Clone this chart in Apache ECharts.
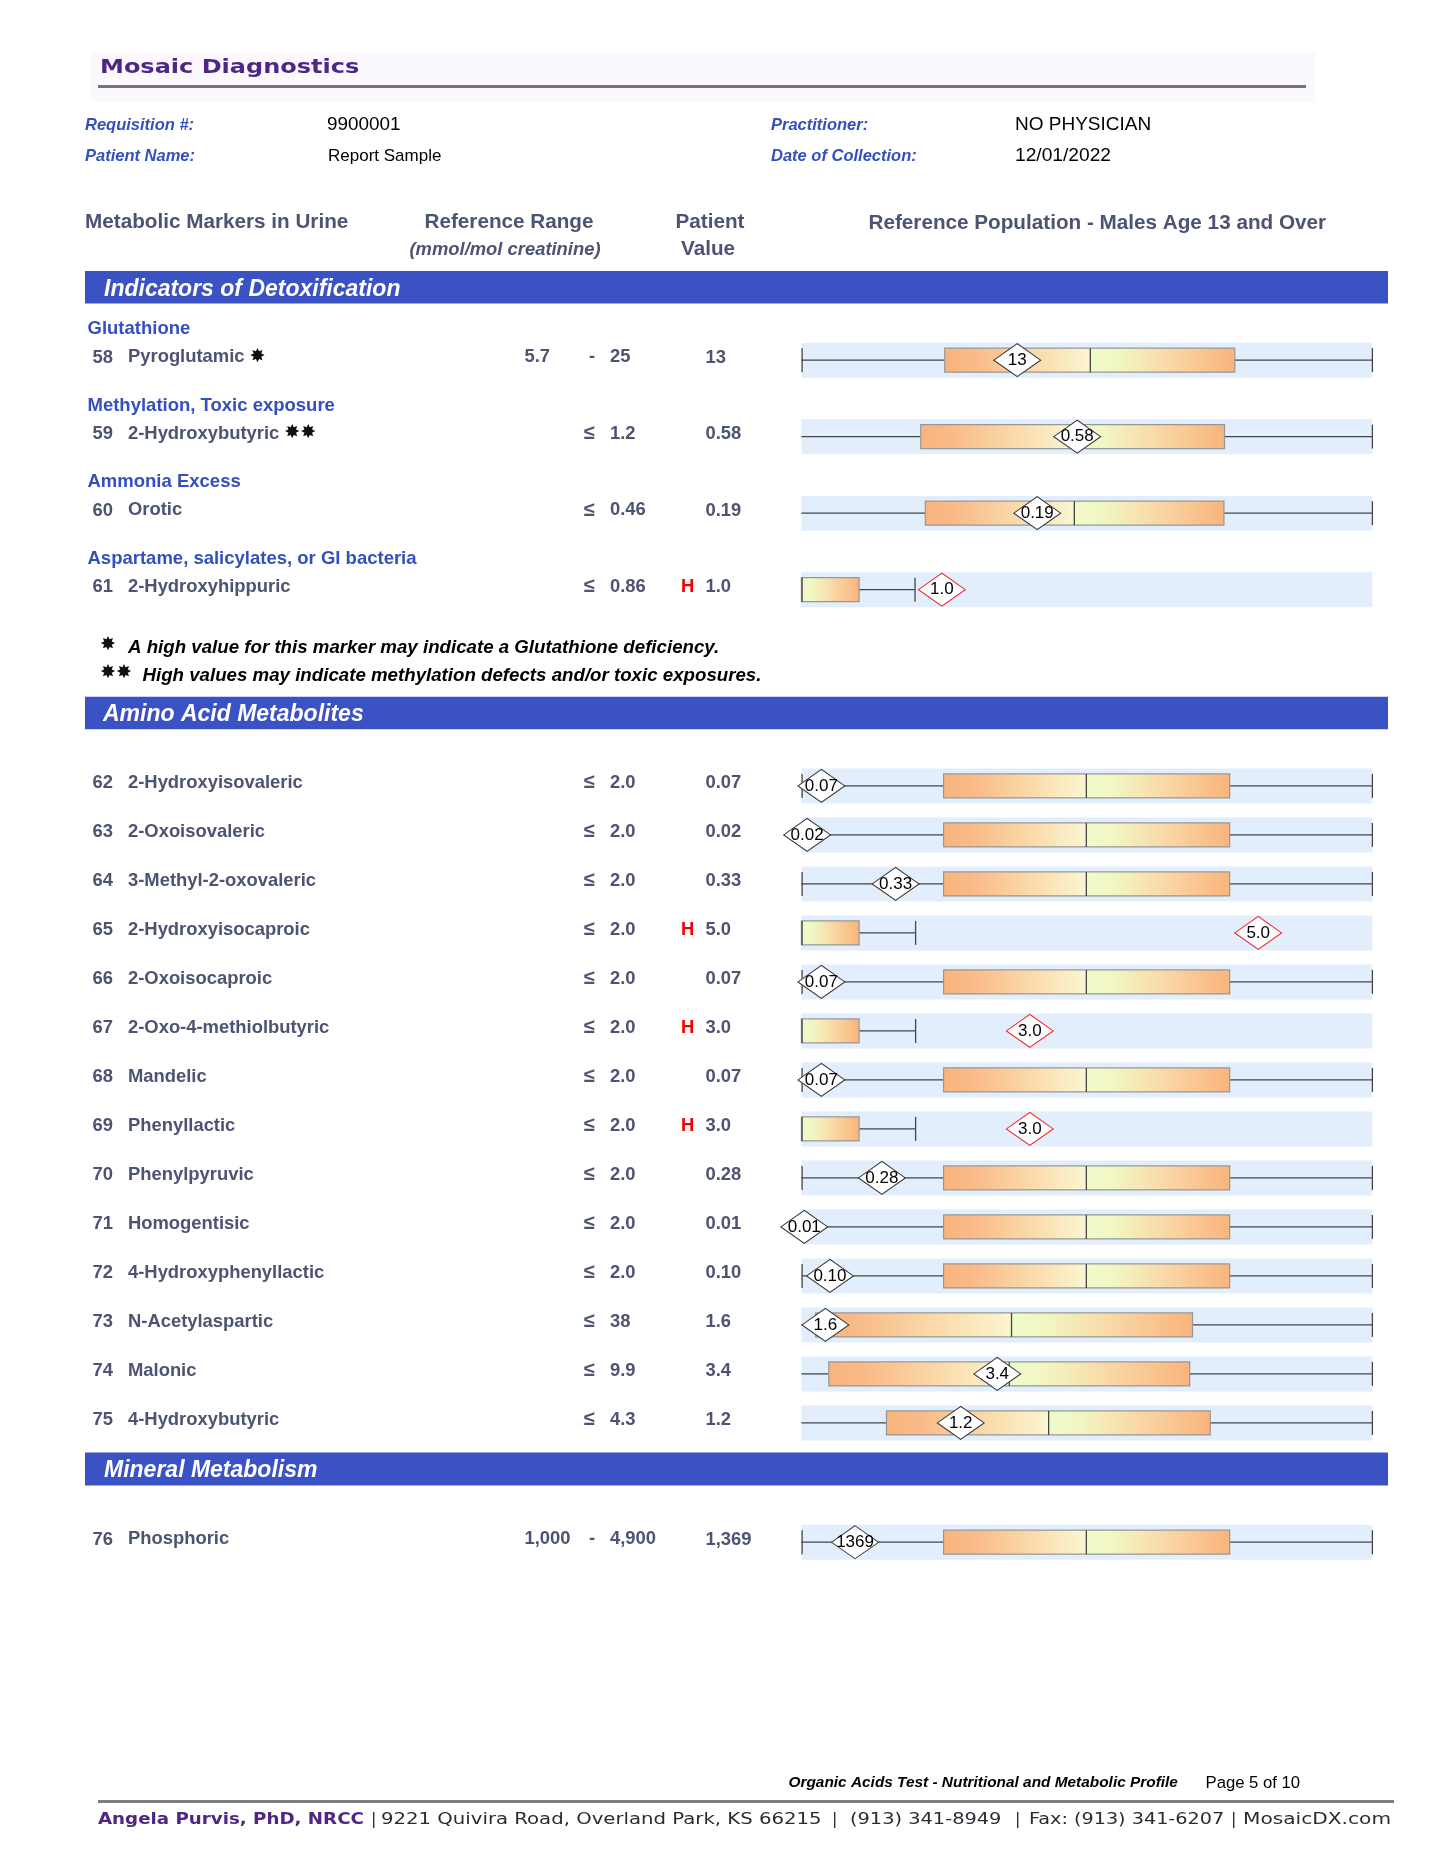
<!DOCTYPE html>
<html>
<head>
    <meta charset="utf-8">
    <script src="https://cdn.jsdelivr.net/npm/echarts@6/dist/echarts.min.js"></script>
    <style>html,body{margin:0;padding:0;background:#fff}</style>
</head>
<body>
    <div id="main" style="width:1445px;height:1870px;"></div>
    <script type="text/javascript">
        var rowIds = [58,59,60,61, 62,63,64,65,66,67,68,69,70,71,72,73,74,75, 76];
        var rowNames = ['Pyroglutamic','2-Hydroxybutyric','Orotic','2-Hydroxyhippuric',
            '2-Hydroxyisovaleric','2-Oxoisovaleric','3-Methyl-2-oxovaleric','2-Hydroxyisocaproic','2-Oxoisocaproic',
            '2-Oxo-4-methiolbutyric','Mandelic','Phenyllactic','Phenylpyruvic','Homogentisic','4-Hydroxyphenyllactic',
            'N-Acetylaspartic','Malonic','4-Hydroxybutyric','Phosphoric'];
        var rowStars = [1,2,0,0, 0,0,0,0,0,0,0,0,0,0,0,0,0,0, 0];
        var rangeLow = ['5.7','','','', '','','','','','','','','','','','','','', '1,000'];
        var rangeHigh = ['25','1.2','0.46','0.86', '2.0','2.0','2.0','2.0','2.0','2.0','2.0','2.0','2.0','2.0','2.0','38','9.9','4.3', '4,900'];
        var patientValues = ['13','0.58','0.19','1.0', '0.07','0.02','0.33','5.0','0.07','3.0','0.07','3.0','0.28','0.01','0.10','1.6','3.4','1.2', '1,369'];
        var markerLabels = ['13','0.58','0.19','1.0', '0.07','0.02','0.33','5.0','0.07','3.0','0.07','3.0','0.28','0.01','0.10','1.6','3.4','1.2', '1369'];
        var highFlags = [0,0,0,1, 0,0,0,1,0,1,0,1,0,0,0,0,0,0, 0];

        // position along the reference bar, 0-100 (the bar is not linear in mmol/mol)
        var markerPos = [37.8,48.3,41.3,24.6, 3.5,1.0,16.5,80,3.5,40,3.5,40,14.1,0.5,5.0,4.2,34.3,27.9, 9.4];
        var whiskerLow = [0,0,0,0, 0,0,0,0,0,0,0,0,0,0,0,0,0,0, 0];
        var lowCap = [1,0,0,1, 1,1,1,1,1,1,1,1,1,1,1,0,0,0, 1];
        var boxLow = [25.1,20.9,21.7,0, 24.9,24.9,24.9,0,24.9,0,24.9,0,24.9,24.9,24.9,2.5,4.8,14.9, 24.9];
        var boxMid = [50.6,48,47.8,0, 49.9,49.9,49.9,0,49.9,0,49.9,0,49.9,49.9,49.9,36.8,36.4,43.3, 49.9];
        var boxHigh = [75.9,74.1,74,10.1, 75,75,75,10.1,75,10.1,75,10.1,75,75,75,68.5,68,71.6, 75];
        var whiskerHigh = [100,100,100,19.9, 100,100,100,20,100,20,100,20,100,100,100,100,100,100, 100];

        var groupLabels = {0:'Glutathione', 1:'Methylation, Toxic exposure', 2:'Ammonia Excess', 3:'Aspartame, salicylates, or GI bacteria'};
        var sections = [[0,4],[4,18],[18,19]];
        var sectionTop = [321.9, 761.4, 1517.7];
        var rowStep = [76.5, 49, 49];

        var BLUE = '#3B52C4', GREY = '#4D5372', LINK = '#3350BE', SANS = '"Liberation Sans"';
        var barLeft = 801.4, barWidth = 571;

        var myChart = echarts.init(document.getElementById('main'));

        var leftFill = new echarts.graphic.LinearGradient(0, 0, 1, 0, [
            {offset: 0, color: '#F9B47C'}, {offset: 0.2, color: '#F9BA88'},
            {offset: 0.6, color: '#FAD9A8'}, {offset: 1, color: '#FBF6D2'}]);
        var rightFill = new echarts.graphic.LinearGradient(0, 0, 1, 0, [
            {offset: 0, color: '#EFFBCB'}, {offset: 0.2, color: '#F2F6C2'},
            {offset: 0.55, color: '#F9D8A6'}, {offset: 1, color: '#F9B47C'}]);

        function renderBox(params, api) {
            var row = api.value(5);
            var cy = api.coord([0, row])[1];
            function px(i) { return api.coord([api.value(i), row])[0]; }
            var wl = px(0), bl = px(1), bm = px(2), bh = px(3), wh = px(4);
            var line = {stroke: '#454545', lineWidth: 1.3};
            var kids = [
                {type: 'line', shape: {x1: wl, y1: cy, x2: bl, y2: cy}, style: line},
                {type: 'line', shape: {x1: bh, y1: cy, x2: wh, y2: cy}, style: line},
                {type: 'line', shape: {x1: wh, y1: cy - 12, x2: wh, y2: cy + 12}, style: line}
            ];
            if (api.value(6)) {
                kids.push({type: 'line', shape: {x1: wl + 0.7, y1: cy - 12, x2: wl + 0.7, y2: cy + 12}, style: line});
            }
            if (bm > bl) {
                kids.push({type: 'rect', shape: {x: bl, y: cy - 12, width: bm - bl, height: 24}, style: {fill: leftFill}});
            }
            kids.push({type: 'rect', shape: {x: bm, y: cy - 12, width: bh - bm, height: 24}, style: {fill: rightFill}});
            kids.push({type: 'rect', shape: {x: bl, y: cy - 12, width: bh - bl, height: 24},
                style: {fill: 'none', stroke: '#979797', lineWidth: 1.2}});
            kids.push({type: 'line', shape: {x1: bm + (bm > bl ? 0 : 0.7), y1: cy - 12, x2: bm + (bm > bl ? 0 : 0.7), y2: cy + 12}, style: line});
            return {type: 'group', children: kids};
        }

        var grids = [], xAxes = [], yAxes = [], series = [];
        sections.forEach(function (sec, g) {
            var idx = [];
            for (var i = sec[0]; i < sec[1]; i++) { idx.push(i); }
            grids.push({left: barLeft, width: barWidth, top: sectionTop[g], height: idx.length * rowStep[g]});
            xAxes.push({gridIndex: g, type: 'value', min: 0, max: 100, show: false});
            yAxes.push({gridIndex: g, type: 'category', inverse: true, show: false,
                data: idx.map(function (i) { return rowNames[i]; })});
            series.push({
                type: 'bar', xAxisIndex: g, yAxisIndex: g, barWidth: 35, silent: true, animation: false,
                itemStyle: {color: '#E3EEFD'},
                data: idx.map(function () { return 100; })
            });
            series.push({
                type: 'custom', xAxisIndex: g, yAxisIndex: g, animation: false, z: 3,
                renderItem: renderBox, encode: {x: [0, 1, 2, 3, 4], y: 5},
                data: idx.map(function (i, k) {
                    return [whiskerLow[i], boxLow[i], boxMid[i], boxHigh[i], whiskerHigh[i], k, lowCap[i]];
                })
            });
            series.push({
                type: 'scatter', xAxisIndex: g, yAxisIndex: g, animation: false, z: 5, clip: false,
                symbol: 'diamond', symbolSize: [47, 33],
                data: idx.map(function (i, k) {
                    return {
                        value: [markerPos[i], k],
                        itemStyle: {color: '#fff', opacity: 1, borderColor: highFlags[i] ? '#F02B2B' : '#3A3A3A', borderWidth: 1},
                        label: {show: true, position: 'inside', formatter: markerLabels[i], color: '#000',
                            fontFamily: 'Liberation Sans', fontSize: 17}
                    };
                })
            });
        });

        // page furniture: everything around the plot is plain text
        var gfx = [];
        function txt(text, x, y, font, fill, align, stretch) {
            gfx.push({type: 'text', silent: true, x: x, y: y, scaleX: stretch || 1,
                style: {text: text, x: 0, y: 0, font: font, fill: fill,
                textAlign: align || 'left', textVerticalAlign: 'middle',
                rich: {s: {font: '19px "DejaVu Sans"', fill: '#111'}}}});
        }
        function box(x, y, w, h, fill) {
            gfx.push({type: 'rect', silent: true, shape: {x: x, y: y, width: w, height: h}, style: {fill: fill}});
        }
        var bold = 'bold 18.4px ' + SANS, boldIt = 'italic bold 16.5px ' + SANS, head = 'bold 20.7px ' + SANS;

        box(91, 52, 1224, 50, '#FBF9FD');
        box(98, 85, 1208, 3, '#79727F');
        txt('Mosaic Diagnostics', 100, 67.5, 'bold 20px "DejaVu Sans"', '#4F2683', 'left', 1.2);

        txt('Requisition #:', 85, 125, boldIt, LINK);
        txt('Patient Name:', 85, 156.7, boldIt, LINK);
        txt('Practitioner:', 771, 125, boldIt, LINK);
        txt('Date of Collection:', 771, 156.7, boldIt, LINK);
        txt('9900001', 327, 124.5, '18.9px ' + SANS, '#000');
        txt('Report Sample', 328, 156.5, '17px ' + SANS, '#000');
        txt('NO PHYSICIAN', 1015, 124.5, '19px ' + SANS, '#000');
        txt('12/01/2022', 1015, 156, '19.2px ' + SANS, '#000');

        txt('Metabolic Markers in Urine', 85, 222, head, GREY);
        txt('Reference Range', 509, 222, head, GREY, 'center');
        txt('(mmol/mol creatinine)', 505, 249.5, 'italic bold 18.4px ' + SANS, GREY, 'center');
        txt('Patient', 710, 222, head, GREY, 'center');
        txt('Value', 708, 249, head, GREY, 'center');
        txt('Reference Population - Males Age 13 and Over', 868.5, 223.7, head, GREY);

        box(85, 271, 1303, 32.5, BLUE);
        box(85, 696.7, 1303, 32.5, BLUE);
        box(85, 1452.5, 1303, 33, BLUE);
        var sectionFont = 'italic bold 23px ' + SANS;
        txt('Indicators of Detoxification', 104, 289.5, sectionFont, '#fff');
        txt('Amino Acid Metabolites', 103, 714.5, sectionFont, '#fff');
        txt('Mineral Metabolism', 104, 1471, sectionFont, '#fff');

        sections.forEach(function (sec, g) {
            for (var i = sec[0]; i < sec[1]; i++) {
                var rowY = sectionTop[g] + (i - sec[0] + 0.5) * rowStep[g];
                var textY = rowY - 3.1;
                if (groupLabels[i]) { txt(groupLabels[i], 87.5, rowY - 31.1, 'bold 18.5px ' + SANS, LINK); }
                txt(String(rowIds[i]), 92.5, textY + 0.5, bold, GREY);
                var stars = rowStars[i] === 2 ? ' {s|\u2738\u2738}' : rowStars[i] === 1 ? ' {s|\u2738}' : '';
                txt(rowNames[i] + stars, 128, textY, bold, GREY);
                if (rangeLow[i]) {
                    txt(rangeLow[i], 524.5, textY, bold, GREY);
                    txt('-', 589, textY, bold, GREY);
                } else {
                    txt('\u2264', 584, textY, 'bold 20px ' + SANS, GREY);
                }
                txt(rangeHigh[i], 610, textY, bold, GREY);
                if (highFlags[i]) { txt('H', 681, textY, bold, '#F00000'); }
                txt(patientValues[i], 705.5, textY + 0.5, bold, GREY);
            }
        });

        var noteFont = 'italic bold 18.7px ' + SANS;
        txt('{s|\u2738}', 100, 645, noteFont, '#000');
        txt('A high value for this marker may indicate a Glutathione deficiency.', 128, 648.3, noteFont, '#000');
        txt('{s|\u2738\u2738}', 100, 673, noteFont, '#000');
        txt('High values may indicate methylation defects and/or toxic exposures.', 142.5, 676, noteFont, '#000');

        txt('Organic Acids Test - Nutritional and Metabolic Profile', 788.5, 1783, 'italic bold 15.4px ' + SANS, '#000');
        txt('Page 5 of 10', 1205.5, 1783, '16.7px ' + SANS, '#000');
        box(98, 1800, 1296, 3, '#7F7F7F');
        var footFont = '16px "DejaVu Sans"', footInk = '#2A2A33';
        txt('Angela Purvis, PhD, NRCC', 98, 1820, 'bold 16px "DejaVu Sans"', '#4F2683', 'left', 1.14);
        txt('|', 371, 1820, footFont, footInk);
        txt('9221 Quivira Road, Overland Park, KS 66215', 381, 1820, footFont, footInk, 'left', 1.23);
        txt('|', 832, 1820, footFont, footInk);
        txt('(913) 341-8949', 850, 1820, footFont, footInk, 'left', 1.21);
        txt('|', 1015, 1820, footFont, footInk);
        txt('Fax: (913) 341-6207', 1029, 1820, footFont, footInk, 'left', 1.2);
        txt('|', 1231, 1820, footFont, footInk);
        txt('MosaicDX.com', 1243, 1820, footFont, footInk, 'left', 1.26);

        myChart.setOption({
            animation: false,
            backgroundColor: '#fff',
            grid: grids,
            xAxis: xAxes,
            yAxis: yAxes,
            series: series,
            graphic: {elements: gfx}
        });
    </script>
</body>
</html>
